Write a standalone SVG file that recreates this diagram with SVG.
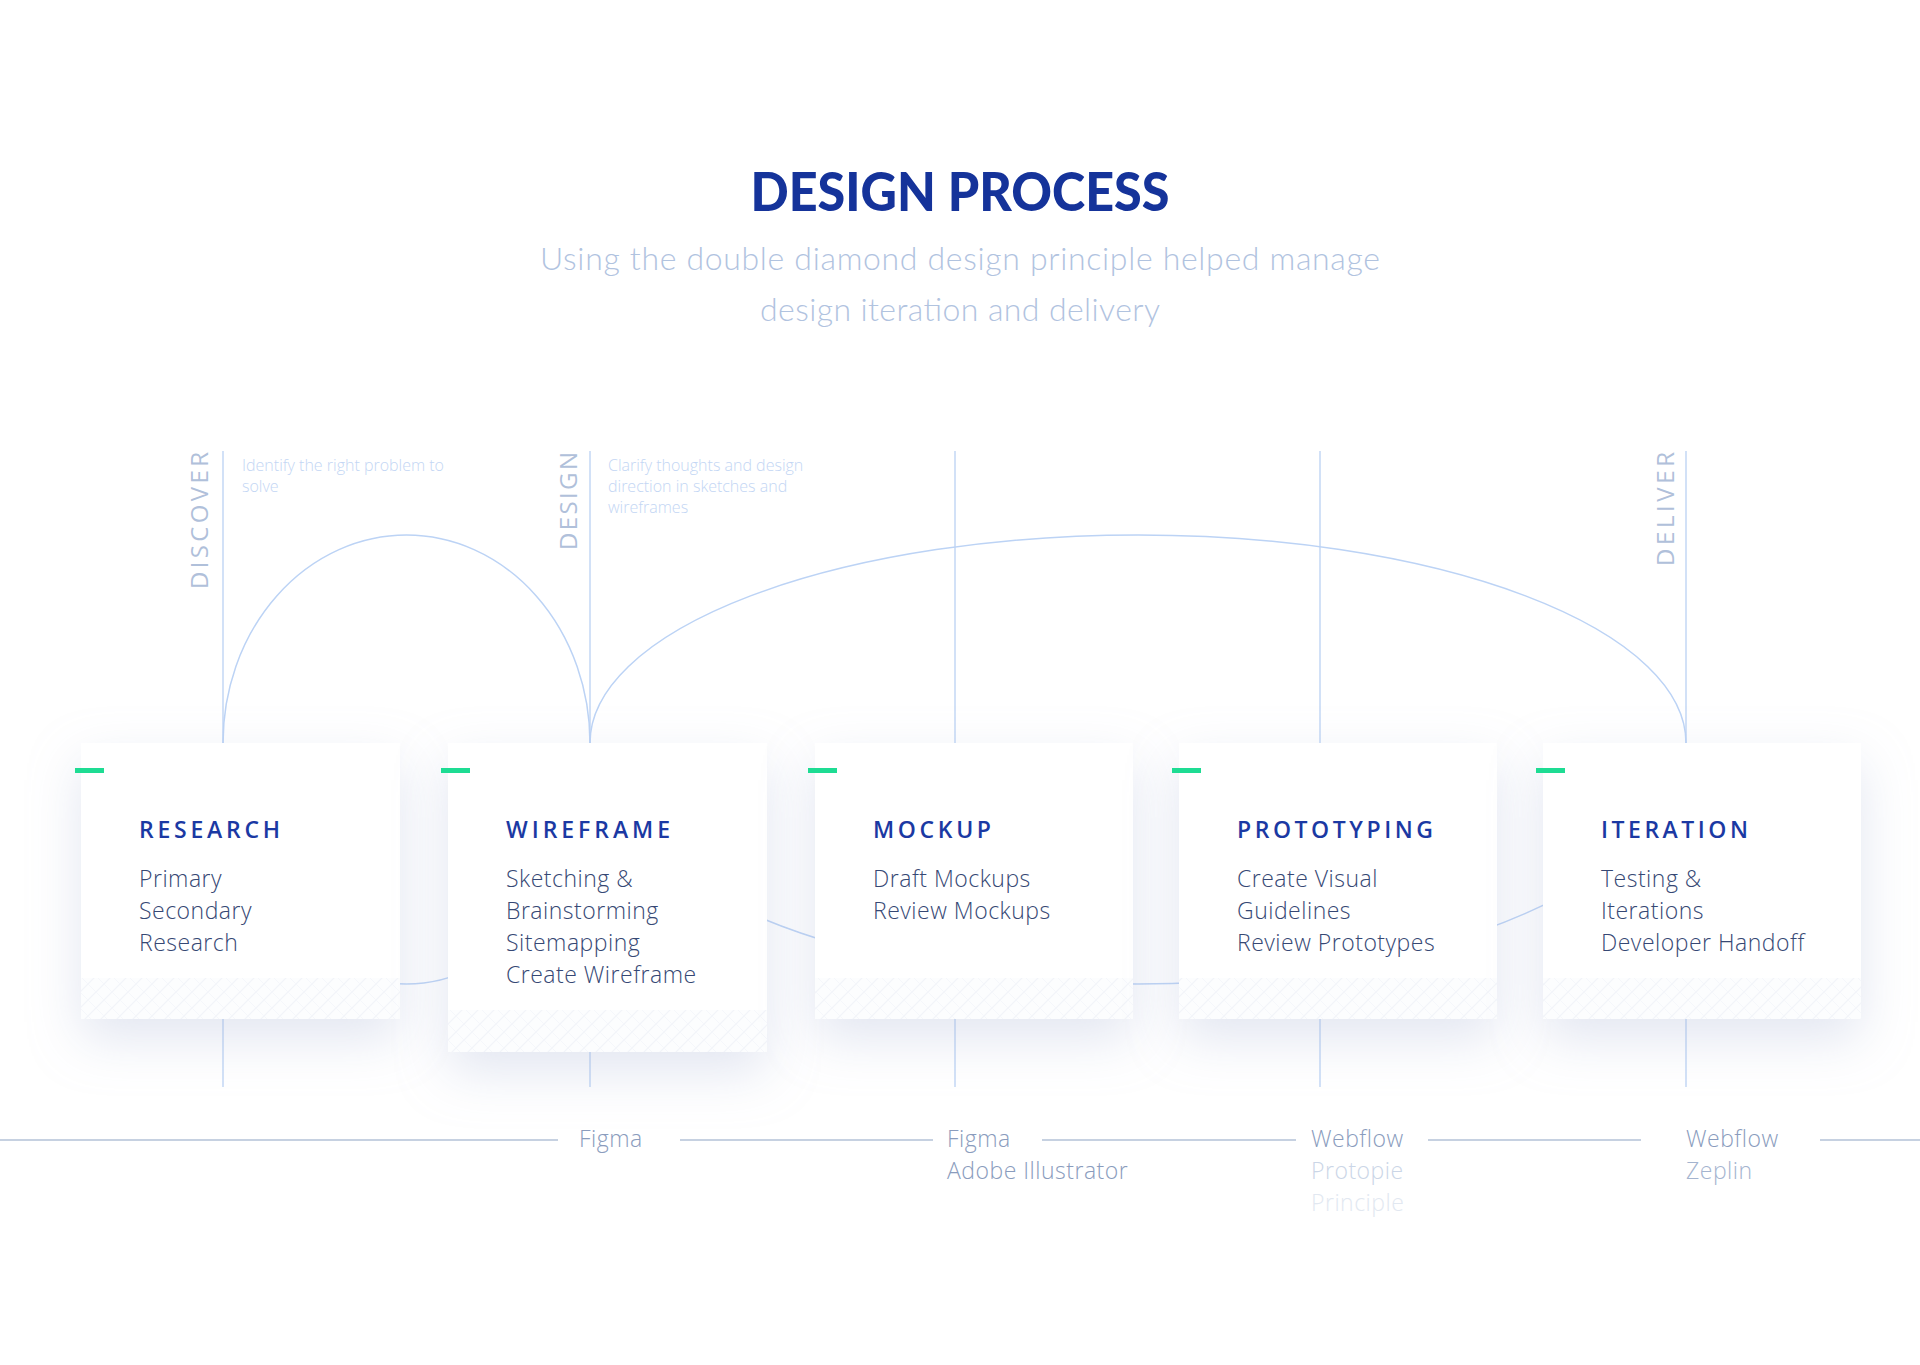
<svg xmlns="http://www.w3.org/2000/svg" width="1920" height="1365" viewBox="0 0 1920 1365">
<defs>
<style>
.title{font-family:"Lato","Liberation Sans",sans-serif;font-weight:900;font-size:53px;fill:#15339a}
.sub{font-family:"Lato","Liberation Sans",sans-serif;font-weight:300;font-size:32px;fill:#b1c3df}
.phase{font-family:"Open Sans","Liberation Sans",sans-serif;font-weight:500;font-size:24px;fill:#b0c0da}
.desc{font-family:"Open Sans","Liberation Sans",sans-serif;font-weight:300;font-size:16px;fill:#c3d6f4}
.ctitle{font-family:"Open Sans","Liberation Sans",sans-serif;font-weight:600;font-size:23px;fill:#1b39a3}
.body{font-family:"Open Sans","Liberation Sans",sans-serif;font-weight:300;font-size:23px;letter-spacing:0.5px;fill:#364874}
.tool{font-family:"Open Sans","Liberation Sans",sans-serif;font-weight:300;font-size:23px;letter-spacing:0.5px;fill:#8a9cbd}
.tool2{fill:#cbd6e7}
.tool3{fill:#e2e8f1}
.vline{stroke:#c3d7f5;stroke-width:1.5;fill:none}
.arc{stroke:#bcd3f5;stroke-width:1.5;fill:none}
.hline{stroke:#c6d1e1;stroke-width:2;fill:none}
.card{fill:#ffffff}
.green{fill:#1edc93}
</style>
<filter id="shadow" x="-30%" y="-30%" width="160%" height="170%">
<feDropShadow dx="0" dy="20" stdDeviation="26" flood-color="#a9b3d3" flood-opacity="0.33"/>
</filter>
<pattern id="hatch" width="16" height="16" patternUnits="userSpaceOnUse">
<rect width="16" height="16" fill="#fcfdfe"/>
<path d="M0,16 L16,0 M-4,4 L4,-4 M12,20 L20,12" stroke="#f2f4f9" stroke-width="1.2"/>
<path d="M0,0 L16,16" stroke="#f5f7fb" stroke-width="1"/>
</pattern>
</defs>
<rect width="1920" height="1365" fill="#ffffff"/>

<g id="heading">
<text class="title" x="960" y="211" text-anchor="middle" textLength="419" lengthAdjust="spacingAndGlyphs">DESIGN PROCESS</text>
<text class="sub" x="960" y="270" text-anchor="middle" textLength="840" lengthAdjust="spacing">Using the double diamond design principle helped manage</text>
<text class="sub" x="960" y="321" text-anchor="middle" textLength="400" lengthAdjust="spacing">design iteration and delivery</text>
</g>

<g id="connectors">
<line class="vline" x1="223" y1="451" x2="223" y2="1087"/>
<line class="vline" x1="590" y1="451" x2="590" y2="1087"/>
<line class="vline" x1="955" y1="451" x2="955" y2="1087"/>
<line class="vline" x1="1320" y1="451" x2="1320" y2="1087"/>
<line class="vline" x1="1686" y1="451" x2="1686" y2="1087"/>
<path class="arc" d="M223,743 A183.5,208 0 0 1 590,743"/>
<path class="arc" d="M590,743 A548,208 0 0 1 1686,743"/>
<path class="arc" d="M223,743 A183.5,241 0 0 0 590,743"/>
<path class="arc" d="M590,743 A548,241 0 0 0 1686,743"/>
<line class="hline" x1="0" y1="1140" x2="558" y2="1140"/>
<line class="hline" x1="680" y1="1140" x2="933" y2="1140"/>
<line class="hline" x1="1042" y1="1140" x2="1296" y2="1140"/>
<line class="hline" x1="1428" y1="1140" x2="1641" y2="1140"/>
<line class="hline" x1="1820" y1="1140" x2="1920" y2="1140"/>
</g>

<g id="phase-discover">
<text class="phase" transform="translate(208,589) rotate(-90)" textLength="137" lengthAdjust="spacing">DISCOVER</text>
<text class="desc" x="242" y="471">Identify the right problem to</text>
<text class="desc" x="242" y="492">solve</text>
</g>
<g id="phase-design">
<text class="phase" transform="translate(577,550) rotate(-90)" textLength="98" lengthAdjust="spacing">DESIGN</text>
<text class="desc" x="608" y="471">Clarify thoughts and design</text>
<text class="desc" x="608" y="492">direction in sketches and</text>
<text class="desc" x="608" y="513">wireframes</text>
</g>
<g id="phase-deliver">
<text class="phase" transform="translate(1674,566) rotate(-90)" textLength="114" lengthAdjust="spacing">DELIVER</text>
</g>

<g id="card-research">
<rect class="card" x="81" y="743" width="319" height="276" filter="url(#shadow)"/>
<rect x="81" y="978" width="319" height="41" fill="url(#hatch)"/>
<rect class="green" x="75" y="768" width="29" height="5"/>
<text class="ctitle" x="139" y="838" textLength="141" lengthAdjust="spacing">RESEARCH</text>
<text class="body" x="139" y="887">Primary</text>
<text class="body" x="139" y="919">Secondary</text>
<text class="body" x="139" y="951">Research</text>
</g>

<g id="card-wireframe">
<rect class="card" x="448" y="743" width="319" height="309" filter="url(#shadow)"/>
<rect x="448" y="1010" width="319" height="42" fill="url(#hatch)"/>
<rect class="green" x="441" y="768" width="29" height="5"/>
<text class="ctitle" x="506" y="838" textLength="164" lengthAdjust="spacing">WIREFRAME</text>
<text class="body" x="506" y="887">Sketching &amp;</text>
<text class="body" x="506" y="919">Brainstorming</text>
<text class="body" x="506" y="951">Sitemapping</text>
<text class="body" x="506" y="983">Create Wireframe</text>
</g>

<g id="card-mockup">
<rect class="card" x="815" y="743" width="318" height="276" filter="url(#shadow)"/>
<rect x="815" y="978" width="318" height="41" fill="url(#hatch)"/>
<rect class="green" x="808" y="768" width="29" height="5"/>
<text class="ctitle" x="873" y="838" textLength="118" lengthAdjust="spacing">MOCKUP</text>
<text class="body" x="873" y="887">Draft Mockups</text>
<text class="body" x="873" y="919">Review Mockups</text>
</g>

<g id="card-prototyping">
<rect class="card" x="1179" y="743" width="318" height="276" filter="url(#shadow)"/>
<rect x="1179" y="978" width="318" height="41" fill="url(#hatch)"/>
<rect class="green" x="1172" y="768" width="29" height="5"/>
<text class="ctitle" x="1237" y="838" textLength="196" lengthAdjust="spacing">PROTOTYPING</text>
<text class="body" x="1237" y="887">Create Visual</text>
<text class="body" x="1237" y="919">Guidelines</text>
<text class="body" x="1237" y="951">Review Prototypes</text>
</g>

<g id="card-iteration">
<rect class="card" x="1543" y="743" width="318" height="276" filter="url(#shadow)"/>
<rect x="1543" y="978" width="318" height="41" fill="url(#hatch)"/>
<rect class="green" x="1536" y="768" width="29" height="5"/>
<text class="ctitle" x="1601" y="838" textLength="147" lengthAdjust="spacing">ITERATION</text>
<text class="body" x="1601" y="887">Testing &amp;</text>
<text class="body" x="1601" y="919">Iterations</text>
<text class="body" x="1601" y="951">Developer Handoff</text>
</g>

<g id="tools">
<text class="tool" x="579" y="1147">Figma</text>
<text class="tool" x="947" y="1147">Figma</text>
<text class="tool" x="947" y="1179">Adobe Illustrator</text>
<text class="tool" x="1311" y="1147">Webflow</text>
<text class="tool tool2" x="1311" y="1179">Protopie</text>
<text class="tool tool3" x="1311" y="1211">Principle</text>
<text class="tool" x="1686" y="1147">Webflow</text>
<text class="tool" x="1686" y="1179" style="fill:#a4b4cf">Zeplin</text>
</g>
</svg>
